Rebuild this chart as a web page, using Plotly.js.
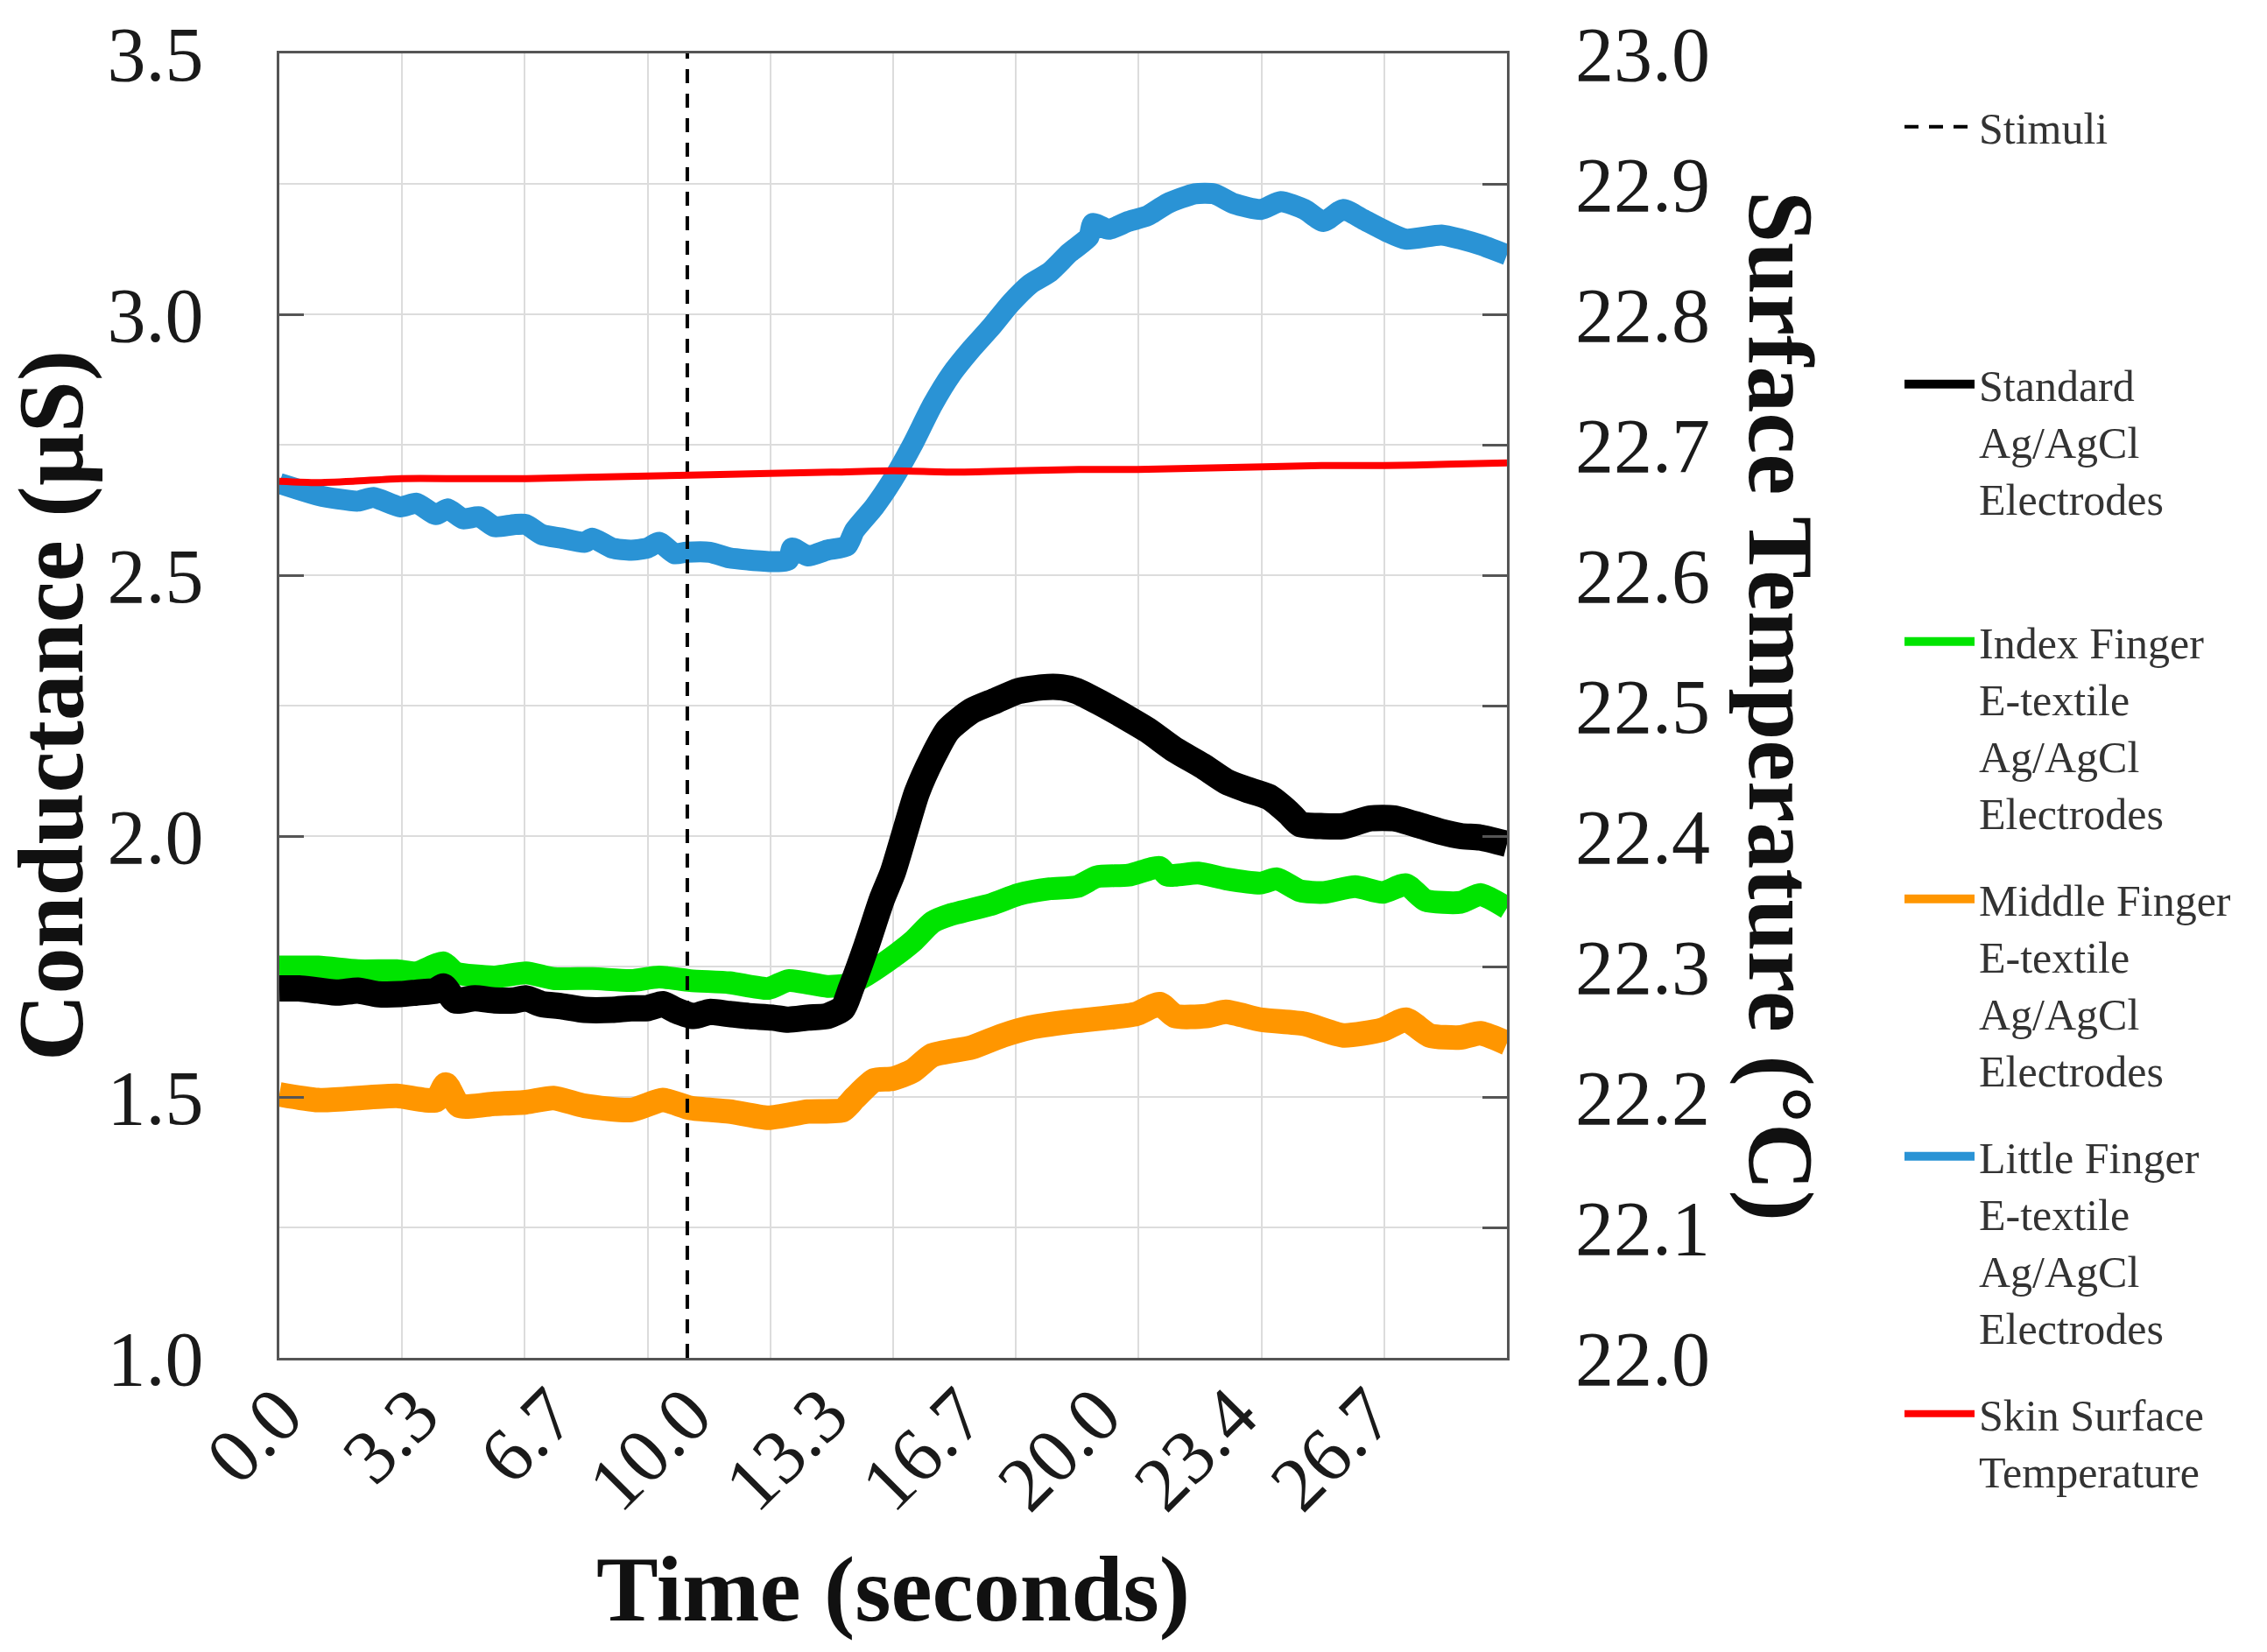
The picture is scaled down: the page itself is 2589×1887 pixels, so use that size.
<!DOCTYPE html>
<html>
<head>
<meta charset="utf-8">
<script src="https://cdn.plot.ly/plotly-3.0.1.min.js"></script>
<style>
  body { margin: 0; background: #fff; }
  #chart { width: 2589px; height: 1887px; }
</style>
</head>
<body>
<div id="chart"></div>
<script>
// values (time in seconds, axis runs 0-30 s)
const tStandard = [0, 0.48, 0.95, 1.43, 1.92, 2.39, 2.96, 3.35, 3.83, 4.01, 4.30, 4.78, 5.26, 5.74, 6.03, 6.41, 6.89, 7.46, 8.13, 8.60, 8.99, 9.37, 9.66, 10.13, 10.52, 11.00, 11.48, 12.05, 12.44, 12.92, 13.39, 13.77, 13.97, 14.35, 14.73, 14.99, 15.29, 15.58, 15.96, 16.34, 16.92, 17.49, 18.06, 18.64, 19.12, 19.49, 20.07, 20.75, 21.22, 21.89, 22.55, 23.13, 23.61, 24.18, 24.66, 24.95, 25.52, 26.00, 26.67, 27.24, 27.92, 28.40, 28.87, 29.35, 30.00];
const standard = [1.708, 1.708, 1.704, 1.700, 1.704, 1.697, 1.697, 1.700, 1.704, 1.712, 1.685, 1.689, 1.685, 1.685, 1.689, 1.678, 1.674, 1.667, 1.667, 1.670, 1.670, 1.678, 1.667, 1.655, 1.663, 1.659, 1.655, 1.652, 1.648, 1.652, 1.655, 1.670, 1.708, 1.790, 1.880, 1.930, 2.008, 2.083, 2.150, 2.203, 2.240, 2.259, 2.278, 2.285, 2.285, 2.278, 2.255, 2.225, 2.203, 2.165, 2.135, 2.105, 2.090, 2.075, 2.045, 2.023, 2.019, 2.019, 2.034, 2.034, 2.019, 2.008, 2.000, 1.997, 1.985];

const tIndex = [0, 0.95, 1.92, 2.87, 3.35, 4.01, 4.30, 5.26, 6.03, 6.70, 7.65, 8.60, 9.28, 10.04, 11.00, 11.95, 12.44, 13.39, 13.87, 14.35, 14.99, 15.48, 15.96, 16.43, 17.40, 18.06, 18.83, 19.49, 19.98, 20.75, 21.51, 21.70, 22.46, 23.13, 23.99, 24.38, 24.95, 25.52, 26.29, 26.96, 27.53, 28.01, 28.87, 29.35, 30.00];
const indexFinger = [1.749, 1.749, 1.742, 1.742, 1.738, 1.757, 1.738, 1.730, 1.738, 1.727, 1.727, 1.723, 1.730, 1.723, 1.719, 1.708, 1.723, 1.712, 1.715, 1.734, 1.768, 1.798, 1.835, 1.850, 1.869, 1.888, 1.899, 1.903, 1.922, 1.925, 1.940, 1.925, 1.929, 1.918, 1.910, 1.918, 1.895, 1.892, 1.903, 1.892, 1.907, 1.877, 1.873, 1.888, 1.862];

const tMiddle = [0, 0.95, 1.92, 2.87, 3.83, 4.07, 4.40, 5.26, 6.03, 6.70, 7.46, 8.60, 9.37, 10.04, 11.00, 11.95, 12.92, 13.77, 14.06, 14.54, 14.99, 15.48, 15.96, 16.92, 17.68, 18.35, 19.31, 20.26, 20.93, 21.51, 21.89, 22.65, 23.13, 23.99, 25.05, 26.00, 26.96, 27.53, 28.11, 28.87, 29.35, 30.00];
const middleFinger = [1.505, 1.494, 1.498, 1.502, 1.494, 1.524, 1.483, 1.487, 1.490, 1.498, 1.483, 1.475, 1.494, 1.479, 1.472, 1.460, 1.472, 1.475, 1.498, 1.532, 1.535, 1.550, 1.580, 1.595, 1.618, 1.633, 1.644, 1.652, 1.659, 1.678, 1.655, 1.655, 1.663, 1.648, 1.640, 1.618, 1.629, 1.648, 1.618, 1.614, 1.622, 1.603];

const tLittle = [0, 0.48, 0.95, 1.43, 1.92, 2.30, 2.96, 3.35, 3.83, 4.11, 4.49, 4.88, 5.26, 5.74, 6.03, 6.41, 6.89, 7.46, 7.65, 8.13, 8.60, 8.99, 9.28, 9.66, 9.95, 10.52, 11.00, 11.48, 12.05, 12.44, 12.53, 12.92, 13.39, 13.87, 14.06, 14.54, 14.99, 15.48, 15.96, 16.43, 16.92, 17.40, 17.87, 18.35, 18.83, 19.31, 19.78, 19.88, 20.26, 20.75, 21.22, 21.70, 22.37, 22.84, 23.33, 23.99, 24.47, 25.05, 25.52, 26.00, 26.48, 27.05, 27.53, 28.40, 28.87, 29.35, 30.00];
const littleFinger = [2.676, 2.664, 2.653, 2.646, 2.642, 2.649, 2.631, 2.638, 2.616, 2.627, 2.608, 2.612, 2.593, 2.597, 2.597, 2.578, 2.571, 2.563, 2.571, 2.552, 2.548, 2.552, 2.563, 2.541, 2.544, 2.544, 2.533, 2.529, 2.526, 2.529, 2.552, 2.537, 2.548, 2.556, 2.586, 2.631, 2.683, 2.751, 2.826, 2.886, 2.934, 2.976, 3.021, 3.058, 3.081, 3.118, 3.148, 3.174, 3.163, 3.178, 3.189, 3.212, 3.231, 3.231, 3.212, 3.201, 3.216, 3.201, 3.178, 3.201, 3.182, 3.159, 3.144, 3.152, 3.144, 3.133, 3.114];

const tSkin = [0, 0.9, 1.8, 2.97, 4.5, 6.03, 7.47, 9.0, 10.53, 11.97, 13.5, 15.03, 16.47, 18.0, 19.53, 20.97, 22.5, 24.03, 25.47, 27.0, 28.53, 30.0];
const skinTemp = [22.672, 22.671, 22.672, 22.674, 22.674, 22.674, 22.675, 22.676, 22.677, 22.678, 22.679, 22.680, 22.679, 22.680, 22.681, 22.681, 22.682, 22.683, 22.684, 22.684, 22.685, 22.686];

const stimulusTime = 9.97;
const timeRange = [0, 30];
const conductanceRange = [1.0, 3.5];
const temperatureRange = [22.0, 23.0];

const xTicks = [0, 3.333, 6.667, 10, 13.333, 16.667, 20, 23.333, 26.667];
const xLabels = ['0.0', '3.3', '6.7', '10.0', '13.3', '16.7', '20.0', '23.4', '26.7'];
const xGrid = [3, 6, 9, 12, 15, 18, 21, 24, 27, 30];

const names = {
  stim: 'Stimuli',
  std: 'Standard<br>Ag/AgCl<br>Electrodes',
  idx: 'Index Finger<br>E-textile<br>Ag/AgCl<br>Electrodes',
  mid: 'Middle Finger<br>E-textile<br>Ag/AgCl<br>Electrodes',
  lit: 'Little Finger<br>E-textile<br>Ag/AgCl<br>Electrodes',
  skin: 'Skin Surface<br>Temperature'
};

const serif = 'Liberation Serif, Times New Roman, serif';

// pad every legend label to 4 lines so the entries sit evenly spaced
const pad = s => {
  let n = s.split('<br>').length;
  while (n < 4) { s += '<br>\u00a0'; n++; }
  return s;
};

const line = (x, y, name, color, width, rank, axis) => ({
  x: x, y: y, name: pad(name), type: 'scatter', mode: 'lines',
  yaxis: axis || 'y',
  line: { color: color, width: width, shape: 'spline', smoothing: 0.6 },
  legendrank: rank, legendgroup: 'g' + rank
});

const data = [
  line(tMiddle, middleFinger, names.mid, '#ff9600', 28, 4),
  line(tIndex, indexFinger, names.idx, '#00e400', 26, 3),
  line(tStandard, standard, names.std, '#000000', 30, 2),
  line(tLittle, littleFinger, names.lit, '#2a93d5', 24, 5),
  line(tSkin, skinTemp, names.skin, '#ff0000', 8, 6, 'y2'),
  {
    x: [stimulusTime, stimulusTime], y: conductanceRange, name: pad(names.stim),
    type: 'scatter', mode: 'lines',
    line: { color: '#000', width: 4, dash: '16px,12px' },
    legendrank: 1, legendgroup: 'g1'
  }
];

const layout = {
  width: 2589, height: 1887,
  paper_bgcolor: '#fff', plot_bgcolor: '#fff',
  margin: { l: 319, r: 868, t: 61, b: 336 },
  font: { family: serif, color: '#222' },
  xaxis: {
    range: timeRange,
    tickmode: 'array', tickvals: xTicks, ticktext: xLabels,
    tickangle: -45, ticks: '',
    tickfont: { size: 88, family: serif, color: '#1a1a1a' },
    ticklabelstandoff: -25,
    showgrid: false,
    minor: { tickmode: 'array', tickvals: xGrid, ticks: '', showgrid: true, gridcolor: '#dcdcdc', gridwidth: 2 },
    showline: true, linecolor: '#555', linewidth: 3, mirror: true,
    zeroline: false,
    title: { text: '<b>Time (seconds)</b>', font: { size: 106, family: serif, color: '#111' }, standoff: 34 }
  },
  yaxis: {
    range: conductanceRange,
    tickmode: 'linear', tick0: 1, dtick: 0.5, tickformat: '.1f',
    ticks: 'inside', ticklen: 28, tickwidth: 3, tickcolor: '#555',
    tickfont: { size: 88, family: serif, color: '#1a1a1a' },
    ticklabelstandoff: 66,
    showgrid: false, zeroline: false,
    showline: true, linecolor: '#555', linewidth: 3, mirror: true,
    title: { text: '<b>Conductance (µS)</b>', font: { size: 106, family: serif, color: '#111' }, standoff: 14 }
  },
  yaxis2: {
    overlaying: 'y', side: 'right',
    range: temperatureRange,
    tickmode: 'linear', tick0: 22, dtick: 0.1, tickformat: '.1f',
    ticks: 'inside', ticklen: 28, tickwidth: 3, tickcolor: '#555',
    tickfont: { size: 88, family: serif, color: '#1a1a1a' },
    ticklabelstandoff: 77,
    showgrid: true, gridcolor: '#dcdcdc', gridwidth: 2,
    zeroline: false, showline: false
  },
  annotations: [{
    xref: 'paper', yref: 'paper', x: (2034 - 319) / 1402, y: 0.5,
    text: '<b>Surface Temperature (°C)</b>', textangle: 90, showarrow: false,
    xanchor: 'center', yanchor: 'middle',
    font: { size: 106, family: serif, color: '#111' }
  }],
  showlegend: true,
  legend: {
    x: (2170 - 319) / 1402, xanchor: 'left',
    y: 0.97, yanchor: 'top',
    traceorder: 'grouped', tracegroupgap: 31,
    valign: 'top', itemwidth: 80, maxheight: 1880,
    bgcolor: 'rgba(0,0,0,0)',
    font: { size: 50, family: serif, color: '#333' }
  }
};

Plotly.newPlot('chart', data, layout, { displayModeBar: false, staticPlot: true });
</script>
</body>
</html>
